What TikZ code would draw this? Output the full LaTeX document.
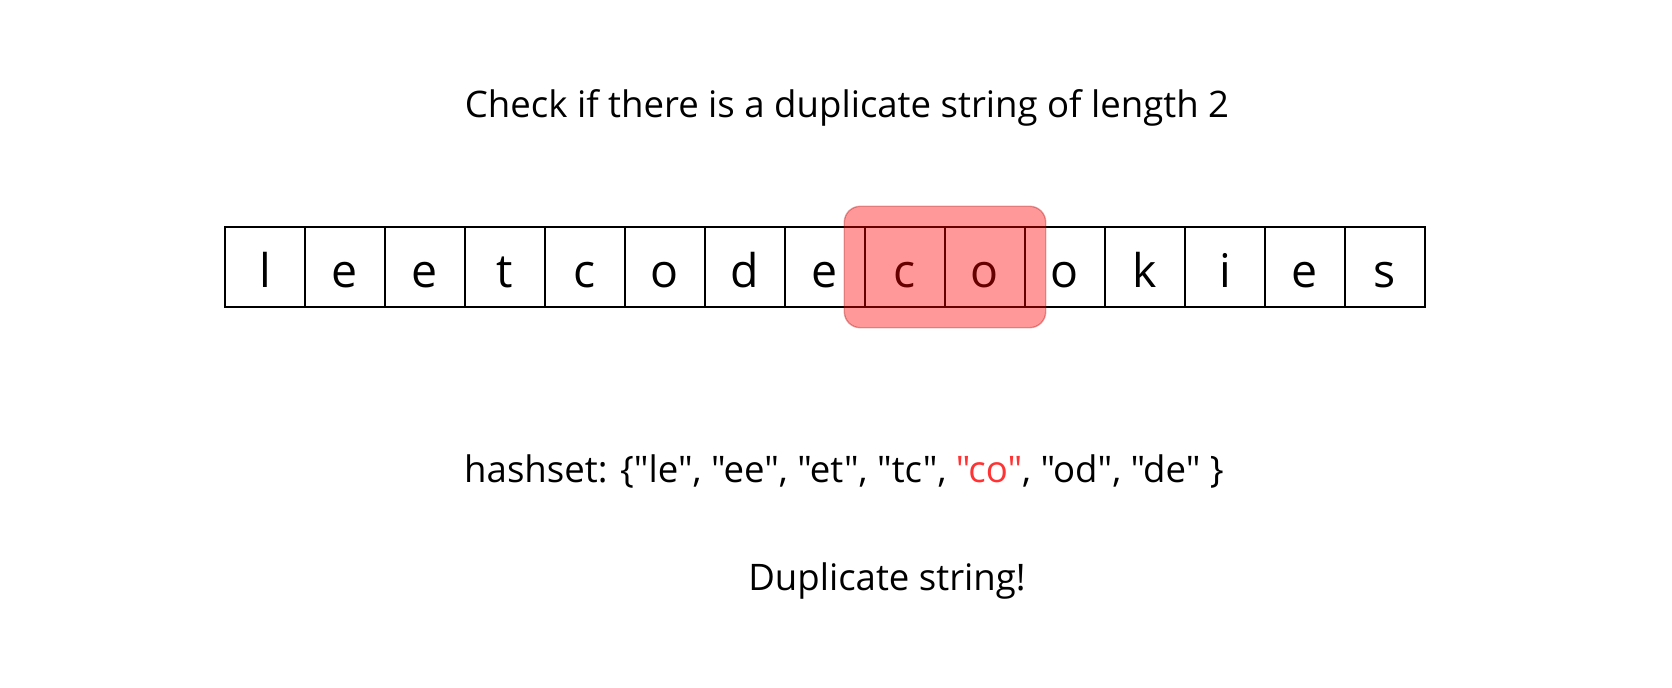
\documentclass[tikz,border=0pt]{standalone}
\usepackage{fontspec}
\setmainfont{Open Sans}[Ligatures=TeXOff]
\usetikzlibrary{fit}

\definecolor{hlred}{HTML}{FF3333}
\tikzset{
  cell/.style={draw, line width=1pt, minimum width=2cm, minimum height=2cm, inner sep=0pt,
    text height=1cm, text depth=0pt, font=\fontsize{33}{36}\selectfont},
  caption/.style={font=\fontsize{26}{30}\selectfont},
}

\begin{document}
\begin{tikzpicture}[x=0.025cm, y=-0.025cm]
  \useasboundingbox (0,0) rectangle (1672,688);
  \node[caption] (title) at (847,108) {Check if there is a duplicate string of length 2};

  \foreach \ch [count=\i] in {l,e,e,t,c,o,d,e,c,o,o,k,i,e,s}
    \node[cell] (c\i) at (185+80*\i,267) {\ch};

  \node[fit=(c9)(c10), inner sep=0.5cm, rounded corners=0.4cm, fill=red, fill opacity=0.4, draw=red!70!black, draw opacity=0.35, line width=1pt] (window) {};

  \node[caption] (hashset) at (844,472) {hashset: \{"le", "ee", "et", "tc", \textcolor{hlred}{"co"}, "od", "de" \}};
  \node[caption] (result) at (887,581) {Duplicate string!};
\end{tikzpicture}
\end{document}
